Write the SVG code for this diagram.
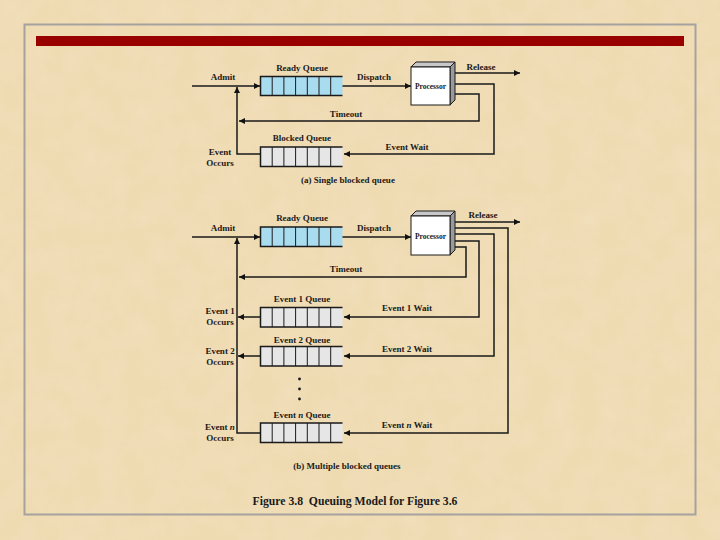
<svg xmlns="http://www.w3.org/2000/svg" width="720" height="540" viewBox="0 0 720 540">
  <defs>
    <marker id="arr" viewBox="0 0 10 10" refX="10" refY="5" markerWidth="7" markerHeight="6" markerUnits="userSpaceOnUse" orient="auto">
      <path d="M0,0 L10,5 L0,10 z" fill="#111"/>
    </marker>
    <filter id="paper" x="0" y="0" width="100%" height="100%">
      <feTurbulence type="fractalNoise" baseFrequency="0.04" numOctaves="3" seed="4" result="n"/>
      <feColorMatrix type="matrix" values="0 0 0 0 0.90  0 0 0 0 0.78  0 0 0 0 0.58  0 0 0 -1.2 0.8" in="n"/>
    </filter>
  </defs>
  <style>
    .lbl { font-family: "Liberation Serif", "Times New Roman", serif; font-weight: bold; font-size: 9px; fill: #1a1a1a; text-anchor: middle; }
    .proc { font-family: "Liberation Serif", serif; font-weight: bold; font-size: 7.5px; fill: #1a1a1a; text-anchor: middle; }
    .cap { font-family: "Liberation Serif", "Times New Roman", serif; font-weight: bold; font-size: 11.7px; fill: #1a1a1a; text-anchor: middle; }
    .ln { fill: none; stroke: #1a1a1a; stroke-width: 1.5; }
    .qr { fill: #aadcf0; }
    .qb { fill: #e6e6e6; }
    .qo { fill: none; stroke: #1a1a1a; stroke-width: 1.5; }
    .qd { stroke: #1a1a1a; stroke-width: 1; }
    .front { fill: #ffffff; stroke: #1a1a1a; stroke-width: 1; }
    .top { fill: #c8c8c8; stroke: #1a1a1a; stroke-width: 1; }
    .side { fill: #9a9a9a; stroke: #1a1a1a; stroke-width: 1; }
  </style>

  <!-- background -->
  <rect x="0" y="0" width="720" height="540" fill="#efdbb2"/>
  <rect x="0" y="0" width="720" height="540" filter="url(#paper)" opacity="0.6"/>
  <rect x="24.5" y="24.5" width="671" height="490" fill="none" stroke="#a6a2a0" stroke-width="2"/>
  <rect x="36" y="36" width="648" height="10" fill="#990000"/>

  <!-- connectors -->
  <g id="connectors">
    <!-- (a) -->
    <line class="ln" x1="192" y1="86" x2="260" y2="86" marker-end="url(#arr)"/>
    <line class="ln" x1="342" y1="86" x2="411" y2="86" marker-end="url(#arr)"/>
    <line class="ln" x1="455" y1="73" x2="520" y2="73" marker-end="url(#arr)"/>
    <polyline class="ln" points="455,84 494,84 494,154 344,154" marker-end="url(#arr)"/>
    <polyline class="ln" points="455,94 479,94 479,121 239,121" marker-end="url(#arr)"/>
    <polyline class="ln" points="260,154 237,154 237,87" marker-end="url(#arr)"/>
    <!-- (b) -->
    <line class="ln" x1="192" y1="237" x2="260" y2="237" marker-end="url(#arr)"/>
    <line class="ln" x1="342" y1="237" x2="411" y2="237" marker-end="url(#arr)"/>
    <line class="ln" x1="455" y1="222" x2="520" y2="222" marker-end="url(#arr)"/>
    <polyline class="ln" points="455,228 508,228 508,433 344,433" marker-end="url(#arr)"/>
    <polyline class="ln" points="455,234 494,234 494,356 344,356" marker-end="url(#arr)"/>
    <polyline class="ln" points="455,241 479,241 479,317 344,317" marker-end="url(#arr)"/>
    <polyline class="ln" points="455,247 466,247 466,277 239,277" marker-end="url(#arr)"/>
    <line class="ln" x1="260" y1="317" x2="238" y2="317" marker-end="url(#arr)"/>
    <line class="ln" x1="260" y1="356" x2="238" y2="356" marker-end="url(#arr)"/>
    <polyline class="ln" points="260,433 237,433 237,238" marker-end="url(#arr)"/>
  </g>

  <!-- (a) nodes -->
  <g id="a-ready-queue">
    <rect class="qr" x="260.5" y="76.5" width="82" height="19"/>
    <path class="qd" d="M272.2,76.5V95.5M283.9,76.5V95.5M295.6,76.5V95.5M307.3,76.5V95.5M319,76.5V95.5M330.7,76.5V95.5"/>
    <path class="qo" d="M342.5,76.5H260.5V95.5H342.5"/>
    <text class="lbl" x="302" y="71">Ready Queue</text>
  </g>
  <g id="a-blocked-queue">
    <rect class="qb" x="260.5" y="147" width="82" height="19.5"/>
    <path class="qd" d="M272.2,147V166.5M283.9,147V166.5M295.6,147V166.5M307.3,147V166.5M319,147V166.5M330.7,147V166.5"/>
    <path class="qo" d="M342.5,147H260.5V166.5H342.5"/>
    <text class="lbl" x="302" y="141">Blocked Queue</text>
  </g>
  <g id="a-processor">
    <polygon class="top" points="411,67 416,62 455,62 450,67"/>
    <polygon class="side" points="450,67 455,62 455,100 450,105"/>
    <rect class="front" x="411" y="67" width="39" height="38"/>
    <text class="proc" x="430.5" y="89">Processor</text>
  </g>
  <g id="a-labels">
    <text class="lbl" x="223" y="80">Admit</text>
    <text class="lbl" x="374" y="80">Dispatch</text>
    <text class="lbl" x="481" y="70">Release</text>
    <text class="lbl" x="346" y="117">Timeout</text>
    <text class="lbl" x="407" y="150">Event Wait</text>
    <text class="lbl" x="220" y="155">Event</text>
    <text class="lbl" x="220" y="166">Occurs</text>
    <text class="lbl" x="348" y="183">(a) Single blocked queue</text>
  </g>

  <!-- (b) nodes -->
  <g id="b-ready-queue">
    <rect class="qr" x="260.5" y="227" width="82" height="19.5"/>
    <path class="qd" d="M272.2,227V246.5M283.9,227V246.5M295.6,227V246.5M307.3,227V246.5M319,227V246.5M330.7,227V246.5"/>
    <path class="qo" d="M342.5,227H260.5V246.5H342.5"/>
    <text class="lbl" x="302" y="221">Ready Queue</text>
  </g>
  <g id="b-processor">
    <polygon class="top" points="411,216 416,211 455,211 450,216"/>
    <polygon class="side" points="450,216 455,211 455,250 450,255"/>
    <rect class="front" x="411" y="216" width="39" height="39"/>
    <text class="proc" x="430.5" y="239">Processor</text>
  </g>
  <g id="b-event1-queue">
    <rect class="qb" x="260.5" y="307.5" width="82" height="19.5"/>
    <path class="qd" d="M272.2,307.5V327M283.9,307.5V327M295.6,307.5V327M307.3,307.5V327M319,307.5V327M330.7,307.5V327"/>
    <path class="qo" d="M342.5,307.5H260.5V327H342.5"/>
    <text class="lbl" x="302" y="302">Event 1 Queue</text>
  </g>
  <g id="b-event2-queue">
    <rect class="qb" x="260.5" y="346.5" width="82" height="19.5"/>
    <path class="qd" d="M272.2,346.5V366M283.9,346.5V366M295.6,346.5V366M307.3,346.5V366M319,346.5V366M330.7,346.5V366"/>
    <path class="qo" d="M342.5,346.5H260.5V366H342.5"/>
    <text class="lbl" x="302" y="343">Event 2 Queue</text>
  </g>
  <g id="b-dots">
    <circle cx="299.5" cy="379" r="1.4" fill="#1a1a1a"/>
    <circle cx="299.5" cy="389" r="1.4" fill="#1a1a1a"/>
    <circle cx="299.5" cy="399" r="1.4" fill="#1a1a1a"/>
  </g>
  <g id="b-eventn-queue">
    <rect class="qb" x="260.5" y="423" width="82" height="19.5"/>
    <path class="qd" d="M272.2,423V442.5M283.9,423V442.5M295.6,423V442.5M307.3,423V442.5M319,423V442.5M330.7,423V442.5"/>
    <path class="qo" d="M342.5,423H260.5V442.5H342.5"/>
    <text class="lbl" x="302" y="418">Event <tspan font-style="italic">n</tspan> Queue</text>
  </g>
  <g id="b-labels">
    <text class="lbl" x="223" y="231">Admit</text>
    <text class="lbl" x="374" y="231">Dispatch</text>
    <text class="lbl" x="483" y="218">Release</text>
    <text class="lbl" x="346" y="272">Timeout</text>
    <text class="lbl" x="407" y="311">Event 1 Wait</text>
    <text class="lbl" x="407" y="352">Event 2 Wait</text>
    <text class="lbl" x="407" y="428">Event <tspan font-style="italic">n</tspan> Wait</text>
    <text class="lbl" x="220" y="314">Event 1</text>
    <text class="lbl" x="220" y="325">Occurs</text>
    <text class="lbl" x="220" y="354">Event 2</text>
    <text class="lbl" x="220" y="365">Occurs</text>
    <text class="lbl" x="220" y="430">Event <tspan font-style="italic">n</tspan></text>
    <text class="lbl" x="220" y="441">Occurs</text>
    <text class="lbl" x="347" y="469">(b) Multiple blocked queues</text>
  </g>

  <text class="cap" x="355" y="505" xml:space="preserve">Figure 3.8  Queuing Model for Figure 3.6</text>
</svg>
